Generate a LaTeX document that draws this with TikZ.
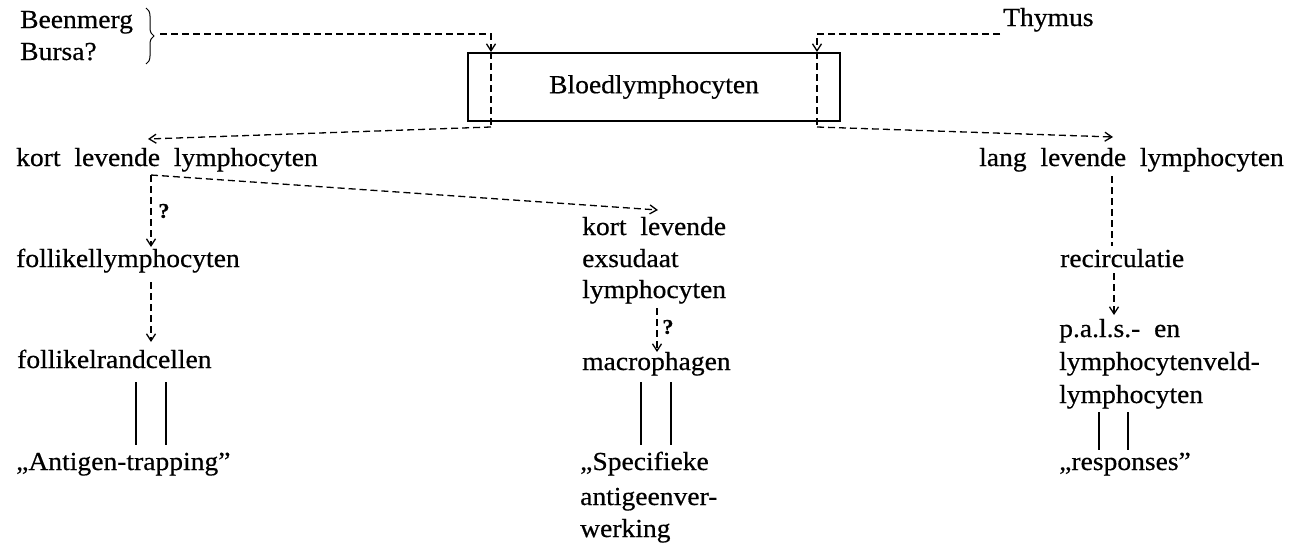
\documentclass[tikz,border=0pt]{standalone}
\usepackage{fontspec}
\setmainfont{Liberation Serif}
\newfontfamily\diafont[FakeStretch=1.06,WordSpace=2.0,FakeBold=0.5]{Liberation Serif}
\usetikzlibrary{arrows.meta,decorations.pathreplacing}
\begin{document}
\begin{tikzpicture}[x=1pt,y=-1pt,
  txt/.style={font=\diafont\fontsize{26}{30}\selectfont, inner sep=0pt, anchor=base west},
  qm/.style={font=\diafont\bfseries\fontsize{21}{24}\selectfont, inner sep=0pt},
  dl/.style={line width=1.3pt, dash pattern=on 7pt off 4pt},
  arr/.style={-{Straight Barb[length=7pt,width=9pt,line width=1.3pt]}},
  sl/.style={line width=1.4pt},
  boxst/.style={draw, line width=1.4pt, minimum width=372pt, minimum height=68pt, inner sep=0pt,
                font=\diafont\fontsize{26}{30}\selectfont}]
\useasboundingbox (0,0) rectangle (1305,549);

% texts
\node[txt] (bm) at (20,28) {Beenmerg};
\node[txt] (bu) at (20,60) {Bursa?};
\node[txt] (th) at (1003,26) {Thymus};
\node[boxst] (bl) at (654,87) {Bloedlymphocyten};
\node[txt] (kl) at (16,166) {kort levende lymphocyten};
\node[txt] (ll) at (979,166) {lang levende lymphocyten};
\node[txt] (fl) at (16,267) {follikellymphocyten};
\node[txt] (fr) at (17,368) {follikelrandcellen};
\node[txt] (at) at (16,470) {„Antigen-trapping”};
\node[txt] (ke1) at (582,235) {kort levende};
\node[txt] (ke2) at (582,267) {exsudaat};
\node[txt] (ke3) at (582,298) {lymphocyten};
\node[txt] (mp) at (582,370) {macrophagen};
\node[txt] (sp1) at (580,470) {„Specifieke};
\node[txt] (sp2) at (580,505) {antigeenver-};
\node[txt] (sp3) at (580,537) {werking};
\node[txt] (rc) at (1060,267) {recirculatie};
\node[txt] (pa1) at (1059,337) {p.a.l.s.- en};
\node[txt] (pa2) at (1059,370) {lymphocytenveld-};
\node[txt] (pa3) at (1059,403) {lymphocyten};
\node[txt] (rs) at (1059,470) {„responses”};
\node[qm] (q1) at (164,211) {?};
\node[qm] (q2) at (668,327) {?};

% brace
\draw[line width=1pt, decorate, decoration={brace, amplitude=8pt}] (146,8) -- (146,64);

% coordinates
\coordinate (bt) at (160,34);
\coordinate (inL) at (491,52);
\coordinate (outL) at (491,127);
\coordinate (klT) at (148,139);
\coordinate (thS) at (1000,34);
\coordinate (inR) at (817,52);
\coordinate (outR) at (817,127);
\coordinate (llT) at (1113,137);
\coordinate (llB) at (1112,176);
\coordinate (rcT) at (1112,246);
\coordinate (rcB) at (1114,273);
\coordinate (paT) at (1114,315);
\coordinate (klB) at (151,175);
\coordinate (flT) at (151,247);
\coordinate (keT) at (658,210);
\coordinate (flB) at (151,282);
\coordinate (frT) at (151,342);
\coordinate (keB) at (657,308);
\coordinate (mpT) at (657,352);

% dashed connectors
\draw[dl, arr] (bt) -| (inL);
\draw[dl] (inL) -- (outL);
\draw[dl, arr] (outL) -- (klT);
\draw[dl, arr] (thS) -| (inR);
\draw[dl] (inR) -- (outR);
\draw[dl, arr] (outR) -- (llT);
\draw[dl] (llB) -- (rcT);
\draw[dl, arr] (rcB) -- (paT);
\draw[dl, arr] (klB) -- (flT);
\draw[dl, arr] (klB) -- (keT);
\draw[dl, arr] (flB) -- (frT);
\draw[dl, arr] (keB) -- (mpT);

% double solid lines
\coordinate (a1) at (136,382); \coordinate (a2) at (136,445);
\coordinate (a3) at (166,382); \coordinate (a4) at (166,445);
\coordinate (b1) at (641,382); \coordinate (b2) at (641,445);
\coordinate (b3) at (671,382); \coordinate (b4) at (671,445);
\coordinate (c1) at (1099,412); \coordinate (c2) at (1099,450);
\coordinate (c3) at (1128,412); \coordinate (c4) at (1128,450);
\draw[sl] (a1) -- (a2); \draw[sl] (a3) -- (a4);
\draw[sl] (b1) -- (b2); \draw[sl] (b3) -- (b4);
\draw[sl] (c1) -- (c2); \draw[sl] (c3) -- (c4);
\end{tikzpicture}
\end{document}
